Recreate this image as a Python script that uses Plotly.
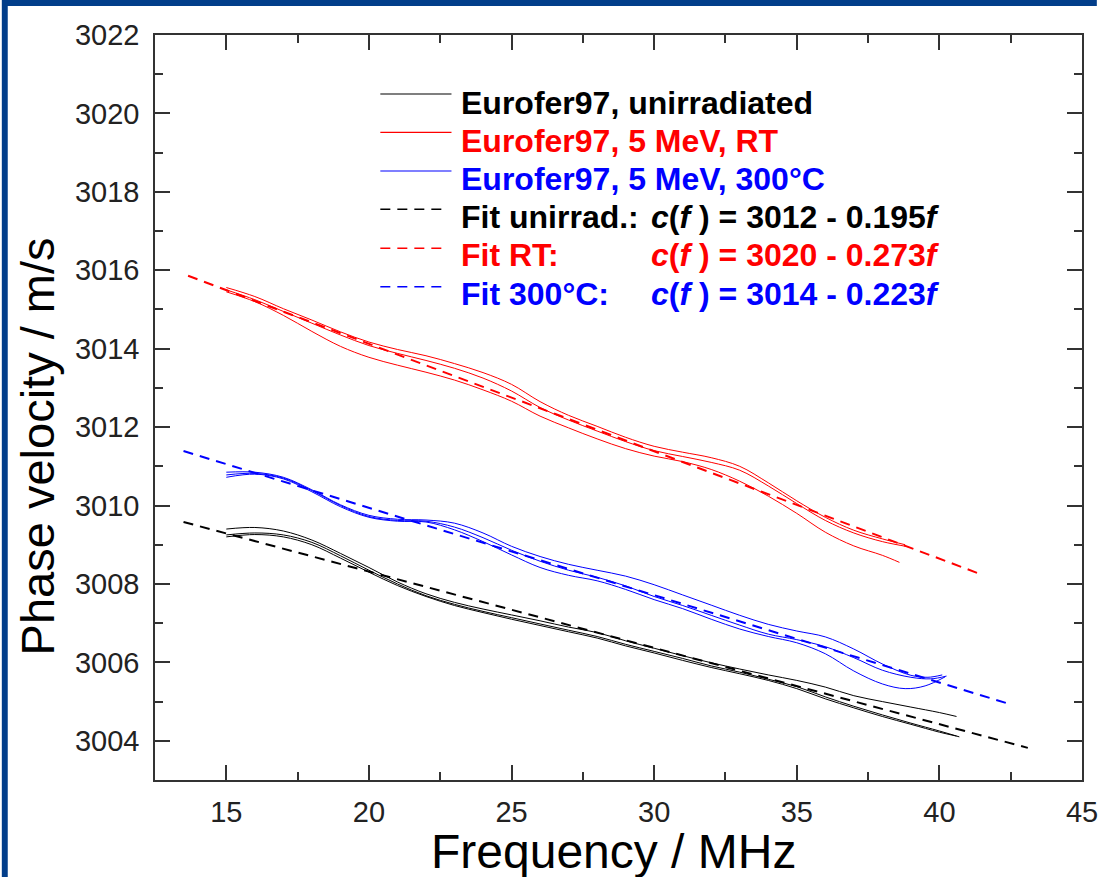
import plotly.graph_objects as go

# ---------------- data ----------------
f_unirr_1 = [15, 16, 17, 18, 19, 20, 21, 22, 23, 24, 25, 26, 27, 28, 29, 30, 31, 32, 33, 34, 35, 36, 37, 38, 39, 40, 40.6]
c_unirr_1 = [3009.40, 3009.44, 3009.35, 3009.12, 3008.78, 3008.42, 3008.05, 3007.75, 3007.53, 3007.36, 3007.21,
             3007.06, 3006.90, 3006.76, 3006.55, 3006.36, 3006.17, 3005.99, 3005.83, 3005.68, 3005.54, 3005.37,
             3005.15, 3005.00, 3004.86, 3004.72, 3004.62]
f_unirr_2 = [15, 16, 17, 18, 19, 20, 21, 22, 23, 24, 25, 26, 27, 28, 29, 30, 31, 32, 33, 34, 35, 36, 37, 38, 39, 40, 40.7]
c_unirr_2 = [3009.25, 3009.30, 3009.25, 3009.06, 3008.72, 3008.35, 3008.00, 3007.70, 3007.48, 3007.30, 3007.14,
             3006.98, 3006.82, 3006.66, 3006.46, 3006.28, 3006.10, 3005.91, 3005.75, 3005.57, 3005.38, 3005.12,
             3004.88, 3004.66, 3004.45, 3004.25, 3004.10]
f_unirr_3 = [15, 16, 17, 18, 19, 20, 21, 22, 23, 24, 25, 26, 27, 28, 29, 30, 31, 32, 33, 34, 35, 36, 37, 38, 39, 40, 40.6]
c_unirr_3 = [3009.20, 3009.26, 3009.20, 3009.00, 3008.66, 3008.30, 3007.96, 3007.68, 3007.45, 3007.27, 3007.10,
             3006.94, 3006.78, 3006.62, 3006.42, 3006.24, 3006.05, 3005.87, 3005.71, 3005.54, 3005.33, 3005.07,
             3004.84, 3004.62, 3004.42, 3004.22, 3004.12]

f_rt_1 = [15, 16, 17, 18, 19, 20, 21, 22, 23, 24, 25, 26, 27, 28, 29, 30, 31, 32, 33, 34, 35, 36, 37, 38, 38.8]
c_rt_1 = [3015.56, 3015.33, 3015.02, 3014.73, 3014.43, 3014.17, 3013.98, 3013.82, 3013.62, 3013.39, 3013.09,
          3012.65, 3012.30, 3012.02, 3011.74, 3011.51, 3011.36, 3011.22, 3011.00, 3010.58, 3010.12, 3009.70,
          3009.37, 3009.15, 3009.00]
f_rt_2 = [15, 16, 17, 18, 19, 20, 21, 22, 23, 24, 25, 26, 27, 28, 29, 30, 31, 32, 33, 34, 35, 36, 37, 38, 38.9]
c_rt_2 = [3015.50, 3015.25, 3014.95, 3014.65, 3014.35, 3014.08, 3013.88, 3013.70, 3013.50, 3013.25, 3012.92,
          3012.50, 3012.18, 3011.90, 3011.63, 3011.40, 3011.25, 3011.10, 3010.90, 3010.50, 3010.05, 3009.62,
          3009.30, 3009.08, 3008.95]
f_rt_3 = [15, 16, 17, 18, 19, 20, 21, 22, 23, 24, 25, 26, 27, 28, 29, 30, 31, 32, 33, 34, 35, 36, 37, 38, 38.6]
c_rt_3 = [3015.45, 3015.20, 3014.85, 3014.44, 3014.06, 3013.78, 3013.58, 3013.40, 3013.20, 3012.95, 3012.66,
          3012.28, 3011.98, 3011.70, 3011.45, 3011.26, 3011.12, 3010.92, 3010.62, 3010.24, 3009.80, 3009.32,
          3008.97, 3008.73, 3008.55]

f_300_1 = [15, 16, 17, 18, 19, 20, 21, 22, 23, 24, 25, 26, 27, 28, 29, 30, 31, 32, 33, 34, 35, 36, 37, 38, 39, 39.6, 40.1]
c_300_1 = [3010.85, 3010.85, 3010.72, 3010.40, 3010.02, 3009.75, 3009.65, 3009.63, 3009.55, 3009.30, 3008.96,
           3008.70, 3008.50, 3008.35, 3008.20, 3007.98, 3007.72, 3007.46, 3007.20, 3006.97, 3006.80, 3006.65,
           3006.34, 3005.96, 3005.67, 3005.62, 3005.68]
f_300_2 = [15, 16, 17, 18, 19, 20, 21, 22, 23, 24, 25, 26, 27, 28, 29, 30, 31, 32, 33, 34, 35, 36, 37, 38, 39, 39.7, 40.25]
c_300_2 = [3010.78, 3010.82, 3010.70, 3010.38, 3010.00, 3009.72, 3009.62, 3009.60, 3009.45, 3009.18, 3008.86,
           3008.58, 3008.35, 3008.17, 3007.95, 3007.68, 3007.45, 3007.20, 3006.95, 3006.72, 3006.58, 3006.40,
           3006.12, 3005.80, 3005.62, 3005.58, 3005.65]
f_300_3 = [15, 16, 17, 18, 19, 20, 21, 22, 23, 24, 25, 26, 27, 28, 29, 30, 31, 32, 33, 34, 35, 36, 37, 38, 38.8, 39.5, 40.2]
c_300_3 = [3010.72, 3010.80, 3010.68, 3010.35, 3009.97, 3009.70, 3009.60, 3009.58, 3009.38, 3009.08, 3008.74,
           3008.42, 3008.22, 3008.08, 3007.86, 3007.60, 3007.37, 3007.10, 3006.85, 3006.66, 3006.50, 3006.22,
           3005.78, 3005.45, 3005.33, 3005.40, 3005.63]

fit_unirr_f = [13.5, 43.1]
fit_unirr_c = [3009.58, 3003.82]
fit_rt_f = [13.66, 41.37]
fit_rt_c = [3015.86, 3008.27]
fit_300_f = [13.5, 42.54]
fit_300_c = [3011.39, 3004.92]

x_ticks = [15, 20, 25, 30, 35, 40, 45]
y_ticks = [3004, 3006, 3008, 3010, 3012, 3014, 3016, 3018, 3020, 3022]

legend_rows = [
    ("Eurofer97, unirradiated", "", "#000000", "solid"),
    ("Eurofer97, 5 MeV, RT", "", "#FF0000", "solid"),
    ("Eurofer97, 5 MeV, 300°C", "", "#0000FF", "solid"),
    ("Fit unirrad.:", "<i>c</i>(<i>f</i> ) = 3012 - 0.195<i>f</i>", "#000000", "dash"),
    ("Fit RT:", "<i>c</i>(<i>f</i> ) = 3020 - 0.273<i>f</i>", "#FF0000", "dash"),
    ("Fit 300°C:", "<i>c</i>(<i>f</i> ) = 3014 - 0.223<i>f</i>", "#0000FF", "dash"),
]

BLACK, RED, BLUE = "#000000", "#FF0000", "#0000FF"
DASH = "10px,7px"

fig = go.Figure()

for f, c, col in [(f_unirr_1, c_unirr_1, BLACK), (f_unirr_2, c_unirr_2, BLACK), (f_unirr_3, c_unirr_3, BLACK),
                  (f_rt_1, c_rt_1, RED), (f_rt_2, c_rt_2, RED), (f_rt_3, c_rt_3, RED),
                  (f_300_1, c_300_1, BLUE), (f_300_2, c_300_2, BLUE), (f_300_3, c_300_3, BLUE)]:
    fig.add_trace(go.Scatter(x=f, y=c, mode="lines", showlegend=False,
                             line=dict(color=col, width=1, shape="spline", smoothing=1.0)))

for f, c, col in [(fit_unirr_f, fit_unirr_c, BLACK), (fit_rt_f, fit_rt_c, RED), (fit_300_f, fit_300_c, BLUE)]:
    fig.add_trace(go.Scatter(x=f, y=c, mode="lines", showlegend=False,
                             line=dict(color=col, width=2, dash=DASH)))

W, H = 1110, 877
L, R, T, B = 155, 17, 35, 97
pw, ph = W - L - R, H - T - B


def px2paper(x, y):
    return (x - L) / pw, (H - B - y) / ph


AX = "#333333"
TICKFONT = dict(family="Liberation Sans, Arial", size=29, color="#222222")
fig.update_layout(
    width=W, height=H,
    margin=dict(l=L, r=R, t=T, b=B),
    paper_bgcolor="white", plot_bgcolor="white",
    showlegend=False,
    xaxis=dict(range=[12.5, 45], tickvals=x_ticks, ticks="inside", ticklen=15, tickwidth=1.5,
               tickcolor=AX, showline=True, linecolor=AX, linewidth=1.5, mirror="ticks",
               showgrid=False, zeroline=False, tickfont=TICKFONT, ticklabelstandoff=5,
               minor=dict(tickvals=[17.5, 22.5, 27.5, 32.5, 37.5, 42.5], ticks="inside", ticklen=8,
                          tickwidth=1.5, tickcolor=AX, showgrid=False)),
    yaxis=dict(range=[3003, 3022], tickvals=y_ticks, ticks="inside", ticklen=15, tickwidth=1.5,
               tickcolor=AX, showline=True, linecolor=AX, linewidth=1.5, mirror="ticks",
               showgrid=False, zeroline=False, tickfont=TICKFONT, ticklabelstandoff=8,
               minor=dict(tickvals=[3005, 3007, 3009, 3011, 3013, 3015, 3017, 3019, 3021], ticks="inside",
                          ticklen=8, tickwidth=1.5, tickcolor=AX, showgrid=False)),
)

annotations = []
shapes = []

x0, y0 = px2paper(619, 851)
annotations.append(dict(text="Frequency / MHz", x=x0, y=y0, xref="paper", yref="paper",
                        xanchor="center", yanchor="middle", showarrow=False,
                        font=dict(family="Liberation Sans, Arial", size=48, color="#000000")))
x0, y0 = px2paper(36, 446)
annotations.append(dict(text="Phase velocity / m/s", x=x0, y=y0, xref="paper", yref="paper",
                        xanchor="center", yanchor="middle", showarrow=False, textangle=-90,
                        font=dict(family="Liberation Sans, Arial", size=47, color="#000000")))

row_text_y = [102.5, 140.7, 178.9, 217.1, 255.3, 293.5]
row_line_y = [94, 132.3, 171, 209.3, 248.3, 286.7]
for (label, eq, col, style), ty, ly in zip(legend_rows, row_text_y, row_line_y):
    xa, ya = px2paper(463, ty)
    annotations.append(dict(text="<b>" + label + "</b>", x=xa, y=ya, xref="paper", yref="paper",
                            xanchor="left", yanchor="middle", showarrow=False,
                            font=dict(family="Liberation Sans, Arial", size=32, color=col)))
    if eq:
        xe, _ = px2paper(655, ty)
        annotations.append(dict(text="<b>" + eq + "</b>", x=xe, y=ya, xref="paper", yref="paper",
                                xanchor="left", yanchor="middle", showarrow=False,
                                font=dict(family="Liberation Sans, Arial", size=32, color=col)))
    lx0, lyp = px2paper(383, ly)
    lx1, _ = px2paper(455 if style == "solid" else 448, ly)
    shapes.append(dict(type="line", xref="paper", yref="paper", x0=lx0, x1=lx1, y0=lyp, y1=lyp,
                       line=dict(color=col, width=1.2 if style == "solid" else 1.5,
                                 dash="solid" if style == "solid" else DASH)))

# dark-blue slide frame: one L-shaped path along the top and left picture edges
FRAME = "#023E8A"
pts = [(0, 0), (W - 2, 0), (W - 2, 6), (6, 6), (6, H), (0, H)]
path = "M " + " L ".join("%.5f,%.5f" % px2paper(x, y) for x, y in pts) + " Z"
shapes.append(dict(type="path", xref="paper", yref="paper", path=path,
                   fillcolor=FRAME, line=dict(width=0), layer="above"))

fig.update_layout(annotations=annotations, shapes=shapes)
fig.write_html("out.html")
